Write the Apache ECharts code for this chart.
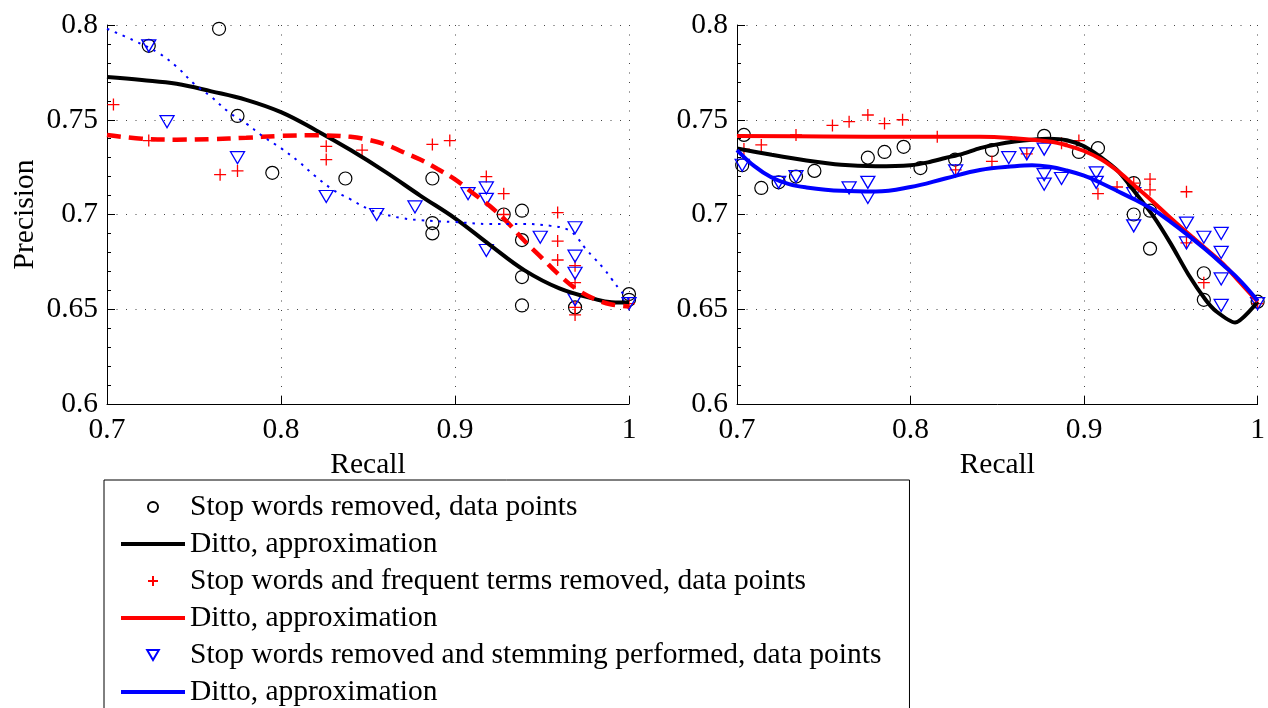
<!DOCTYPE html>
<html><head><meta charset="utf-8">
<script src="https://cdn.jsdelivr.net/npm/echarts@6/dist/echarts.min.js"></script>
<style>html,body{margin:0;padding:0;background:#fff}#c{width:1268px;height:708px}</style>
</head><body><div id="c"></div>
<script>
// ---- axis ranges / tick labels ----
const xRange = [0.7, 1.0], xStep = 0.1;   // tick labels 0.7 0.8 0.9 1
const yRange = [0.6, 0.8], yStep = 0.05;  // tick labels 0.6 0.65 0.7 0.75 0.8

// ---- legend names ----
const nameC = 'Stop words removed, data points';
const nameP = 'Stop words and frequent terms removed, data points';
const nameT = 'Stop words removed and stemming performed, data points';
const nameL1 = 'Ditto, approximation #1';
const nameL2 = 'Ditto, approximation #2';
const nameL3 = 'Ditto, approximation #3';

// ---- LEFT panel: data points [recall, precision] ----
const leftCircles = [[0.7644,0.798],[0.724,0.789],[0.775,0.752],[0.795,0.722],[0.837,0.719],[0.887,0.719],[0.887,0.6955],[0.887,0.690],[0.928,0.700],[0.9385,0.702],[0.9385,0.6865],[0.9385,0.667],[0.9385,0.652],[0.969,0.651],[1.0,0.658],[1.0,0.655]];
const leftPluses = [[0.7037,0.758],[0.724,0.739],[0.765,0.721],[0.775,0.723],[0.826,0.736],[0.826,0.729],[0.8466,0.734],[0.887,0.737],[0.897,0.739],[0.918,0.720],[0.928,0.711],[0.928,0.700],[0.959,0.701],[0.959,0.686],[0.959,0.676],[0.969,0.673],[0.969,0.664],[0.969,0.651],[0.969,0.647],[1.0,0.653]];
const leftTriangles = [[0.724,0.789],[0.7345,0.749],[0.775,0.730],[0.826,0.7095],[0.855,0.700],[0.877,0.704],[0.9075,0.711],[0.918,0.714],[0.918,0.708],[0.918,0.681],[0.949,0.688],[0.969,0.693],[0.969,0.678],[0.969,0.669],[0.969,0.655],[1.0,0.653]];
// ---- LEFT panel: approximations ----
const leftBlackFit = [[0.70,0.7726],[0.72,0.771],[0.74,0.769],[0.76,0.765],[0.78,0.7605],[0.80,0.754],[0.82,0.7445],[0.84,0.734],[0.86,0.7225],[0.88,0.710],[0.90,0.698],[0.92,0.684],[0.94,0.6705],[0.96,0.661],[0.98,0.6555],[0.99,0.6537],[1.0,0.6535]];
const leftRedFit = [[0.70,0.742],[0.72,0.740],[0.74,0.7395],[0.76,0.7398],[0.78,0.7405],[0.80,0.7415],[0.82,0.7418],[0.84,0.741],[0.85,0.7395],[0.86,0.737],[0.87,0.733],[0.88,0.729],[0.89,0.724],[0.90,0.7185],[0.91,0.7115],[0.92,0.7045],[0.93,0.696],[0.94,0.686],[0.95,0.677],[0.96,0.668],[0.97,0.6605],[0.98,0.6555],[0.99,0.6525],[1.0,0.6515]];
const leftBlueFit = [[0.70,0.798],[0.715,0.792],[0.73,0.785],[0.74,0.778],[0.75,0.769],[0.76,0.762],[0.77,0.754],[0.78,0.748],[0.79,0.741],[0.80,0.735],[0.81,0.728],[0.82,0.720],[0.83,0.713],[0.84,0.708],[0.85,0.703],[0.86,0.700],[0.87,0.698],[0.88,0.697],[0.90,0.696],[0.92,0.695],[0.94,0.695],[0.955,0.694],[0.965,0.692],[0.97,0.688],[0.975,0.682],[0.98,0.677],[0.985,0.672],[0.99,0.666],[0.995,0.660],[1.0,0.655]];

// ---- RIGHT panel: data points ----
const rightCircles = [[0.704,0.742],[0.703,0.726],[0.714,0.714],[0.724,0.717],[0.734,0.720],[0.7446,0.723],[0.7754,0.730],[0.785,0.733],[0.796,0.7357],[0.8057,0.7245],[0.8257,0.729],[0.8469,0.734],[0.877,0.7415],[0.897,0.733],[0.908,0.735],[0.9286,0.7166],[0.9286,0.700],[0.938,0.702],[0.938,0.682],[0.969,0.669],[0.969,0.655],[1.0,0.654]];
const rightPluses = [[0.704,0.7345],[0.714,0.7367],[0.734,0.742],[0.755,0.747],[0.7646,0.749],[0.7754,0.7525],[0.785,0.748],[0.7954,0.750],[0.8154,0.741],[0.826,0.7235],[0.8469,0.728],[0.867,0.732],[0.887,0.7376],[0.897,0.739],[0.908,0.711],[0.919,0.7145],[0.9286,0.7166],[0.938,0.7187],[0.938,0.713],[0.959,0.712],[0.959,0.685],[0.969,0.664],[1.0,0.653]];
const rightTriangles = [[0.703,0.726],[0.724,0.717],[0.734,0.720],[0.7646,0.714],[0.7754,0.717],[0.7754,0.709],[0.826,0.723],[0.8566,0.730],[0.867,0.732],[0.877,0.7345],[0.877,0.721],[0.877,0.716],[0.887,0.719],[0.907,0.722],[0.907,0.717],[0.9286,0.711],[0.9286,0.694],[0.959,0.6955],[0.959,0.685],[0.969,0.688],[0.979,0.690],[0.979,0.680],[0.979,0.666],[0.979,0.652],[1.0,0.653]];
// ---- RIGHT panel: approximations ----
const rightBlackFit = [[0.70,0.7348],[0.72,0.7315],[0.74,0.7285],[0.76,0.7262],[0.78,0.7255],[0.80,0.726],[0.81,0.7275],[0.82,0.7298],[0.83,0.732],[0.84,0.735],[0.85,0.737],[0.86,0.7385],[0.87,0.7395],[0.88,0.740],[0.89,0.7392],[0.90,0.736],[0.91,0.730],[0.92,0.7225],[0.93,0.711],[0.94,0.699],[0.95,0.6845],[0.96,0.6685],[0.97,0.655],[0.976,0.649],[0.987,0.643],[1.0,0.654]];
const rightRedFit = [[0.70,0.7414],[0.75,0.7412],[0.80,0.741],[0.84,0.741],[0.86,0.7402],[0.88,0.7385],[0.89,0.7365],[0.90,0.7335],[0.91,0.729],[0.92,0.7225],[0.93,0.7145],[0.94,0.7065],[0.95,0.698],[0.96,0.690],[0.97,0.682],[0.98,0.674],[0.99,0.664],[1.0,0.654]];
const rightBlueFit = [[0.70,0.734],[0.71,0.7255],[0.72,0.7195],[0.73,0.716],[0.74,0.7143],[0.76,0.7125],[0.78,0.7121],[0.80,0.7145],[0.82,0.719],[0.84,0.7235],[0.86,0.7255],[0.87,0.726],[0.88,0.7252],[0.89,0.7232],[0.90,0.7205],[0.91,0.7165],[0.92,0.712],[0.93,0.7075],[0.94,0.7025],[0.95,0.696],[0.96,0.689],[0.97,0.6815],[0.98,0.6735],[0.99,0.665],[1.0,0.6545]];

// ---- styles ----
const FONT = 'Liberation Serif';
const FS = 29.5;
const circleSym = 'circle';
const plusSym = 'path://M6,0V12M0,6H12';
const triSym = 'path://M0,0H14L7,12Z';
const lineIcon = 'path://M0,0H64V4H0Z';

function xAxisCfg(gi) {
  return {
    type: 'value', gridIndex: gi, min: xRange[0], max: xRange[1], interval: xStep,
    name: 'Recall', nameLocation: 'middle', nameGap: 35,
    nameTextStyle: { fontFamily: FONT, fontSize: FS, color: '#000' },
    axisLine: { show: true, onZero: false, lineStyle: { color: '#000', width: 1 } },
    axisTick: { show: true, inside: true, length: 8, lineStyle: { color: '#000', width: 1 } },
    axisLabel: { margin: 11, color: '#000', fontFamily: FONT, fontSize: FS },
    splitLine: { show: true, lineStyle: { color: '#444', width: 1, type: [1, 8.5] } }
  };
}
function yAxisCfg(gi, withName) {
  return {
    type: 'value', gridIndex: gi, min: yRange[0], max: yRange[1], interval: yStep,
    name: withName ? 'Precision' : '', nameLocation: 'middle', nameGap: 67,
    nameTextStyle: { fontFamily: FONT, fontSize: FS, color: '#000' },
    axisLine: { show: true, onZero: false, lineStyle: { color: '#000', width: 1 } },
    axisTick: { show: true, inside: true, length: 8, lineStyle: { color: '#000', width: 1 } },
    minorTick: { show: true, splitNumber: 5, length: 4, lineStyle: { color: '#000', width: 1 } },
    axisLabel: { margin: 9, color: '#000', fontFamily: FONT, fontSize: FS },
    splitLine: { show: true, lineStyle: { color: '#444', width: 1, type: [1, 8.5] } }
  };
}
function scatter(name, gi, data, sym, size, color, bw) {
  return {
    type: 'scatter', name, xAxisIndex: gi, yAxisIndex: gi, data,
    symbol: sym, symbolSize: size, silent: true, z: 2,
    itemStyle: { color: 'rgba(0,0,0,0)', borderColor: color, borderWidth: bw, opacity: 1 },
    emphasis: { disabled: true }
  };
}
function line(name, gi, data, color, width, type, smooth) {
  return {
    type: 'line', name, xAxisIndex: gi, yAxisIndex: gi, data,
    symbol: 'none', smooth: smooth == null ? 0.4 : smooth, silent: true, z: 3,
    itemStyle: { color },
    lineStyle: { color, width, type: type || 'solid' },
    emphasis: { disabled: true }
  };
}

const chart = echarts.init(document.getElementById('c'), null, { renderer: 'canvas' });
chart.setOption({
  animation: false,
  backgroundColor: '#fff',
  grid: [
    { left: 107, top: 25, width: 522, height: 379 },
    { left: 737, top: 25, width: 525, height: 379 }
  ],
  xAxis: [xAxisCfg(0), xAxisCfg(1)],
  yAxis: [yAxisCfg(0, true), yAxisCfg(1, false)],
  legend: {
    orient: 'vertical', left: 104, top: 480, height: 300,
    itemWidth: 64, itemHeight: 10, itemGap: 7,
    padding: [12, 28, 30, 17],
    borderColor: '#000', borderWidth: 1, backgroundColor: '#fff',
    textStyle: { fontFamily: FONT, fontSize: FS, color: '#000' },
    formatter: n => n.replace(/ #\d$/, ''),
    selectedMode: false,
    data: [
      { name: nameC },
      { name: nameL1, icon: lineIcon, itemStyle: { color: '#000' } },
      { name: nameP },
      { name: nameL2, icon: lineIcon, itemStyle: { color: '#ff0000' } },
      { name: nameT },
      { name: nameL3, icon: lineIcon, itemStyle: { color: '#0000ff' } }
    ]
  },
  series: [
    // right panel first (legend styles come from these)
    scatter(nameC, 1, rightCircles, circleSym, 13, '#000', 1.2),
    line(nameL1, 1, rightBlackFit, '#000', 4, null, 0.25),
    scatter(nameP, 1, rightPluses, plusSym, 12, '#ff0000', 1.3),
    line(nameL2, 1, rightRedFit, '#ff0000', 4),
    scatter(nameT, 1, rightTriangles, triSym, [14, 12], '#0000ff', 1.3),
    line(nameL3, 1, rightBlueFit, '#0000ff', 4),
    // left panel
    scatter(nameC, 0, leftCircles, circleSym, 13, '#000', 1.2),
    line(nameL1, 0, leftBlackFit, '#000', 4),
    scatter(nameP, 0, leftPluses, plusSym, 12, '#ff0000', 1.3),
    line(nameL2, 0, leftRedFit, '#ff0000', 4.5, [14, 8]),
    scatter(nameT, 0, leftTriangles, triSym, [14, 12], '#0000ff', 1.3),
    line(nameL3, 0, leftBlueFit, '#0000ff', 2, [2.5, 6])
  ]
});
</script>
</body></html>
